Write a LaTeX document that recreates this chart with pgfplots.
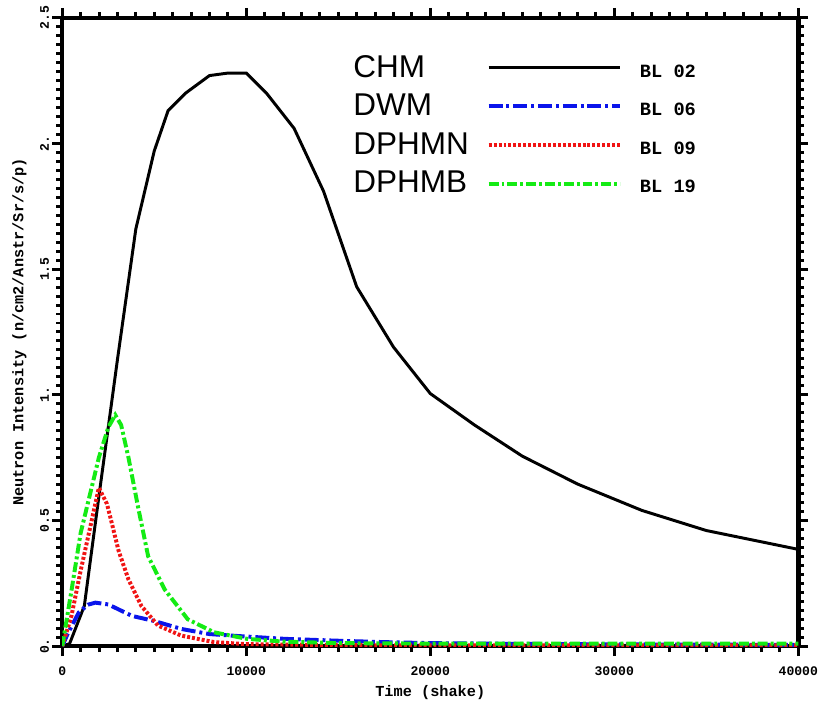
\documentclass[border=0pt]{standalone}
\usepackage{fontspec}
\setmainfont{Liberation Mono}
\newfontfamily\arial{Liberation Sans}
\usepackage{pgfplots}
\pgfplotsset{compat=1.18}
\definecolor{cblue}{RGB}{10,20,235}
\definecolor{cred}{RGB}{240,20,20}
\definecolor{cgreen}{RGB}{20,235,20}
\begin{document}
\begin{tikzpicture}
\useasboundingbox (-63bp,-57bp) rectangle (769bp,654bp);
\begin{axis}[
  scale only axis, width=745bp, height=636bp,
  xmin=0, xmax=40000, ymin=0, ymax=2.5,
  axis line style={line width=4.5bp},
  tick align=outside,
  major tick length=10bp, minor tick length=6bp,
  every tick/.style={line width=3bp, black},
  xtick={0,10000,20000,30000,40000},
  xticklabels={0,10000,20000,30000,40000},
  minor x tick num=9,
  ytick={0,0.5,1,1.5,2,2.5},
  yticklabels={0.,0.5,1.,1.5,2.,2.5},
  minor y tick num=13,
  scaled x ticks=false,
  /pgf/number format/assume math mode=true,
  ticklabel style={font=\bfseries\fontsize{13.3}{15}\selectfont},
  xticklabel style={yshift=-7bp},
  yticklabel style={rotate=90, anchor=south},
  xlabel={Time (shake)},
  ylabel={Neutron Intensity (n/cm2/Anstr/Sr/s/p)},
  label style={font=\bfseries\fontsize{15.5}{18}\selectfont},
  xlabel style={at={(axis description cs:0.5,-0.074)}, anchor=center},
  ylabel style={at={(axis description cs:-0.058,0.5)}, anchor=center},
  legend plot pos=right,
  legend columns=2,
  legend cell align=left,
  legend image code/.code={\draw[#1] (0bp,0bp) -- (133bp,0bp);},
  legend style={at={(rel axis cs:0.39,0.948)}, anchor=north west,
    draw=none, fill=none, column sep=17bp, row sep=8bp,
    nodes={inner sep=1bp, text height=24bp, text depth=5bp}},
]
\addplot[black, line width=3bp] table {
0 0
400 0.01
1200 0.16
2000 0.60
3000 1.14
4000 1.66
5000 1.97
5750 2.13
6700 2.20
8000 2.27
9000 2.28
10000 2.28
11100 2.20
12600 2.06
14200 1.81
16000 1.43
18000 1.19
20000 1.005
22400 0.88
25000 0.756
28000 0.645
31500 0.54
35000 0.46
40000 0.385
};
\addlegendentry{\arial\fontsize{32}{36}\selectfont CHM}
\addlegendimage{empty legend}
\addlegendentry{\bfseries\fontsize{19}{22}\selectfont BL 02}
\addplot[cblue, line width=4bp, dash pattern=on 14bp off 4bp on 3bp off 4bp] table {
0 0
300 0.05
900 0.134
1400 0.165
1800 0.173
2500 0.166
3800 0.12
5000 0.10
6500 0.068
8000 0.048
9600 0.040
12100 0.029
14800 0.022
17500 0.016
20000 0.012
25000 0.009
30000 0.007
35000 0.006
40000 0.005
};
\addlegendentry{\arial\fontsize{32}{36}\selectfont DWM}
\addlegendimage{empty legend}
\addlegendentry{\bfseries\fontsize{19}{22}\selectfont BL 06}
\addplot[cred, line width=4bp, dash pattern=on 3bp off 2bp] table {
0 0
500 0.12
1000 0.30
1450 0.45
1990 0.63
2430 0.566
2700 0.487
3060 0.38
3600 0.265
4300 0.16
5200 0.082
6460 0.042
8250 0.016
10000 0.008
15000 0.004
20000 0.003
40000 0.003
};
\addlegendentry{\arial\fontsize{32}{36}\selectfont DPHMN}
\addlegendimage{empty legend}
\addlegendentry{\bfseries\fontsize{19}{22}\selectfont BL 09}
\addplot[cgreen, line width=4bp, dash pattern=on 10bp off 3bp on 3bp off 3bp] table {
0 0
500 0.22
1000 0.45
1990 0.75
2500 0.87
2880 0.92
3200 0.88
3600 0.75
4130 0.55
4670 0.357
5570 0.225
6820 0.107
8250 0.055
10040 0.029
12000 0.018
15000 0.012
20000 0.010
40000 0.010
};
\addlegendentry{\arial\fontsize{32}{36}\selectfont DPHMB}
\addlegendimage{empty legend}
\addlegendentry{\bfseries\fontsize{19}{22}\selectfont BL 19}
\end{axis}
\end{tikzpicture}
\end{document}
